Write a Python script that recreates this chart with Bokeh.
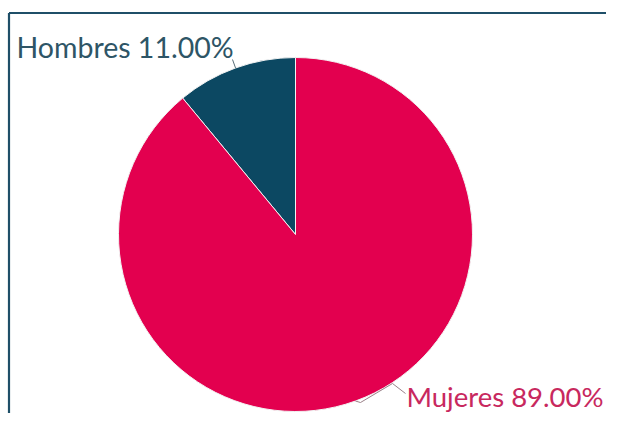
import math
from bokeh.plotting import figure
from bokeh.models import Range1d, ColumnDataSource
from bokeh.embed import file_html
from bokeh.resources import INLINE
from bokeh.core.properties import value

categories = ["Hombres", "Mujeres"]
percentages = [11.00, 89.00]
colors = ["#0c4862", "#e3004f"]
label_colors = ["#2e5566", "#c8285e"]

W, H = 606, 413
p = figure(width=W, height=H, output_backend="svg", toolbar_location=None,
           x_range=Range1d(0, W), y_range=Range1d(0, H), min_border=0)
p.axis.visible = False
p.grid.visible = False
p.outline_line_color = None
p.background_fill_color = "white"
p.border_fill_color = "white"

def px(x):
    return x
def py(y):
    return H - y

cx, cy, r = px(295), py(234), 177

# border (top and left)
p.line([px(8.5), px(622)], [py(12.5), py(12.5)], line_color="#1f4f68", line_width=2.2)
p.line([px(8.5), px(8.5)], [py(12.5), py(430)], line_color="#1f4f68", line_width=2.2)

total = sum(percentages)
starts, ends, mids = [], [], []
a = math.pi / 2
for v in percentages:
    s = a
    e = a + 2 * math.pi * v / total
    starts.append(s)
    ends.append(e)
    mids.append((s + e) / 2)
    a = e

src = ColumnDataSource(dict(start=starts, end=ends, color=colors, cat=categories))
p.wedge(x=cx, y=cy, radius=r, start_angle="start", end_angle="end",
        fill_color="color", line_color="#f2f2f2", line_width=1, source=src)

# leader lines
ex0 = cx + r * math.cos(mids[0]); ey0 = cy + r * math.sin(mids[0])
p.line([ex0, px(232)], [ey0, py(59)], line_color="#5a6e78", line_width=1)
ex1 = cx + r * math.cos(mids[1]); ey1 = cy + r * math.sin(mids[1])
p.line([ex1, px(360), px(392), px(405)], [ey1, py(402), py(383), py(393)],
       line_color="#9a8088", line_width=1)

labels = [f"{c} {v:.2f}%" for c, v in zip(categories, percentages)]
p.text(x=[px(16)], y=[py(46)], text=[labels[0]], text_font=value("Lato"),
       text_font_size="28.5px", text_color=label_colors[0], text_baseline="middle", text_align="left")
p.text(x=[px(406)], y=[py(396)], text=[labels[1]], text_font=value("Lato"),
       text_font_size="27.5px", text_color=label_colors[1], text_baseline="middle", text_align="left")

open("out.html", "w").write(file_html(p, INLINE))
